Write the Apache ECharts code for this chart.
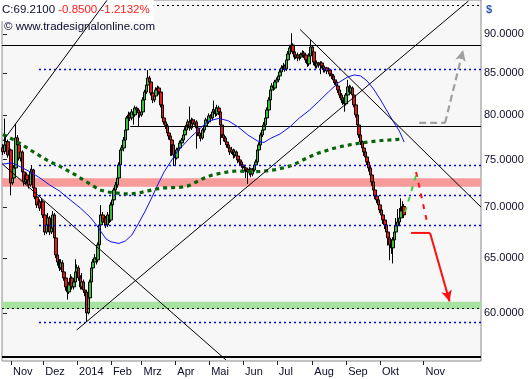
<!DOCTYPE html>
<html><head><meta charset="utf-8">
<script src="https://cdn.jsdelivr.net/npm/echarts@6/dist/echarts.min.js"></script>
<style>html,body{margin:0;padding:0;background:#fff}#c{width:531px;height:379px}</style>
</head><body><div id="c"></div>
<script>
// x = trading-day index (0 = first bar, late Oct 2013)
const monthTickIdx = [5,25,46,67,86,107,128,149,170,192,213,234,261];
const monthLabels = ['Nov','Dez','2014','Feb','Mrz','Apr','Mai','Jun','Jul','Aug','Sep','Okt','Nov'];
const priceTicks = [60,65,70,75,80,85,90];
// [open, close, low, high]
const candles = [
[76.30,75.86,75.50,76.70],[75.86,76.61,75.60,79.60],[76.61,76.97,76.20,77.50],[76.97,75.50,75.20,77.20],[75.50,76.05,75.30,76.40],
[76.05,72.50,71.20,76.20],[72.50,73.02,72.30,73.50],[73.02,74.09,72.80,74.40],[74.09,77.39,73.90,79.00],[77.39,76.61,76.30,77.70],
[76.61,75.17,74.90,76.80],[75.17,75.83,74.80,76.20],[75.83,73.66,73.40,76.00],[73.66,72.60,72.20,73.90],[72.60,73.34,72.30,73.60],
[73.34,72.81,72.40,73.60],[72.81,72.28,71.90,73.10],[72.28,73.66,72.10,74.00],[73.66,73.88,73.20,74.40],[73.88,71.97,71.70,74.00],
[71.97,71.04,70.80,72.20],[71.04,70.22,69.90,71.30],[70.22,70.53,69.90,70.90],[70.53,69.91,69.60,70.80],[69.91,70.53,69.70,70.90],
[70.53,69.20,68.90,70.70],[69.20,67.51,67.20,69.40],[67.51,68.21,67.30,68.50],[68.21,68.90,68.00,69.40],[68.90,67.51,67.20,69.10],
[67.51,67.91,67.30,68.20],[67.91,69.20,67.70,69.60],[69.20,66.93,66.60,69.40],[66.93,65.30,65.00,67.10],[65.30,64.64,64.30,65.60],
[64.64,64.08,63.80,64.90],[64.08,64.55,63.90,64.90],[64.55,63.71,63.40,64.80],[63.71,63.15,62.90,63.90],[63.15,62.34,62.00,63.40],
[62.34,61.88,61.20,62.60],[61.88,62.52,61.70,62.80],[62.52,63.15,62.30,63.50],[63.15,62.34,62.10,63.30],[62.34,62.79,62.10,63.10],
[62.79,63.71,62.60,64.90],[63.71,64.08,63.40,64.40],[64.08,63.15,62.90,64.30],[63.15,62.34,62.10,63.40],[62.34,62.79,62.10,63.60],
[62.79,62.06,61.80,63.00],[62.06,61.88,61.50,62.30],[61.88,60.03,59.28,62.00],[60.03,61.35,59.90,61.60],[61.35,62.79,61.20,63.00],
[62.79,64.08,62.60,64.30],[64.08,64.64,63.70,64.90],[64.64,65.02,64.30,65.40],[65.02,64.83,64.40,65.30],[64.83,66.26,64.60,66.50],
[66.26,68.21,66.00,68.50],[68.21,69.20,66.80,70.20],[69.20,68.50,68.20,69.50],[68.50,68.90,68.20,69.20],[68.90,68.21,67.90,69.10],
[68.21,69.20,68.00,69.50],[69.20,68.70,68.40,69.40],[68.70,70.22,68.50,70.50],[70.22,70.73,69.90,71.00],[70.73,71.76,70.50,72.00],
[71.76,72.28,71.40,72.60],[72.28,73.02,72.00,73.50],[73.02,74.41,72.80,74.70],[74.41,76.05,74.20,76.30],[76.05,76.27,75.60,76.60],
[76.27,77.16,75.90,77.50],[77.16,78.29,76.90,78.60],[78.29,79.67,78.00,79.90],[79.67,80.02,79.30,80.40],[80.02,79.67,79.30,80.30],
[79.67,80.37,79.40,80.70],[80.37,80.02,78.90,80.60],[80.02,80.83,79.80,81.10],[80.83,80.60,80.30,81.00],[80.60,80.25,78.70,80.80],
[80.25,80.02,79.70,80.40],[80.02,80.37,79.80,80.70],[80.37,81.78,80.20,82.10],[81.78,82.73,81.50,83.00],[82.73,83.58,82.50,84.00],
[83.58,84.43,83.30,85.40],[84.43,83.94,83.60,84.70],[83.94,82.61,82.30,84.10],[82.61,81.78,81.40,82.80],[81.78,82.25,81.50,82.50],
[82.25,82.97,82.00,83.30],[82.97,83.21,82.60,83.50],[83.21,82.73,82.40,83.40],[82.73,81.19,80.90,82.90],[81.19,79.67,79.40,81.40],
[79.67,79.21,78.90,79.90],[79.21,78.75,78.40,79.40],[78.75,77.95,77.60,79.00],[77.95,77.61,77.20,78.20],[77.61,77.16,75.40,77.90],
[77.16,76.61,75.40,77.40],[76.61,75.50,74.30,76.80],[75.50,75.17,74.30,75.70],[75.17,76.05,75.00,76.30],[76.05,76.27,75.80,76.60],
[76.27,76.83,76.00,77.10],[76.83,77.16,76.60,77.40],[77.16,77.73,76.90,78.00],[77.73,78.29,77.50,78.60],[78.29,78.86,78.00,79.10],
[78.86,79.21,78.60,79.50],[79.21,78.52,78.20,81.00],[78.52,79.44,78.30,79.70],[79.44,78.98,78.70,79.60],[78.98,79.21,78.80,79.50],
[79.21,78.52,76.20,79.40],[78.52,77.95,77.60,78.70],[77.95,77.61,77.30,78.20],[77.61,77.39,77.00,77.90],[77.39,78.29,77.20,78.50],
[78.29,78.75,78.00,79.00],[78.75,79.44,78.50,79.70],[79.44,79.21,78.90,79.60],[79.21,79.90,79.00,80.20],[79.90,79.67,79.30,80.10],
[79.67,80.37,79.40,80.70],[80.37,80.60,80.10,81.70],[80.60,80.14,79.80,80.90],[80.14,80.83,79.90,81.20],[80.83,80.37,80.00,81.10],
[80.37,78.86,76.60,80.50],[78.86,77.73,77.40,79.00],[77.73,77.39,77.00,78.00],[77.39,76.94,76.60,77.60],[76.94,76.61,76.30,77.30],
[76.61,76.27,75.90,76.90],[76.27,75.83,75.50,76.50],[75.83,76.05,75.60,76.40],[76.05,75.50,75.10,76.20],[75.50,75.83,75.20,76.10],
[75.83,75.39,75.00,76.00],[75.39,74.96,74.60,75.60],[74.96,74.74,74.40,75.10],[74.74,74.41,74.10,74.90],[74.41,74.20,73.90,74.60],
[74.20,74.09,73.70,74.40],[74.09,73.88,73.00,74.20],[73.88,73.66,72.40,74.00],[73.66,73.98,73.30,74.20],[73.98,73.45,73.10,74.10],
[73.45,73.88,73.20,74.10],[73.88,74.41,73.70,74.70],[74.41,74.74,74.20,75.00],[74.74,76.05,74.60,76.30],[76.05,76.61,75.80,76.90],
[76.61,77.73,76.40,78.00],[77.73,78.29,77.50,78.60],[78.29,78.86,78.00,79.20],[78.86,79.67,78.60,80.00],[79.67,80.60,79.40,80.90],
[80.60,81.78,80.40,82.10],[81.78,82.97,81.60,83.30],[82.97,83.46,82.70,83.80],[83.46,83.21,82.90,83.60],[83.21,83.94,83.00,84.20],
[83.94,84.19,83.70,84.50],[84.19,84.68,84.00,85.00],[84.68,85.17,84.40,85.50],[85.17,85.67,84.90,86.00],[85.67,85.92,85.40,86.30],
[85.92,85.54,85.20,86.10],[85.54,86.67,85.30,87.00],[86.67,87.42,86.40,87.80],[87.42,88.19,87.10,88.60],[88.19,88.57,87.80,90.10],
[88.57,87.68,87.40,88.80],[87.68,87.05,86.70,87.90],[87.05,87.30,86.80,87.70],[87.30,86.92,86.50,87.60],[86.92,87.05,86.60,87.40],
[87.05,87.30,86.80,87.60],[87.30,87.55,87.00,87.90],[87.55,87.30,86.90,87.80],[87.30,86.67,86.30,87.50],[86.67,86.17,85.80,86.90],
[86.17,87.17,85.90,87.50],[87.17,88.31,86.90,89.20],[88.31,87.68,87.30,88.50],[87.68,86.41,86.00,87.90],[86.41,85.92,85.60,86.60],
[85.92,86.29,85.60,86.60],[86.29,86.04,85.70,86.40],[86.04,86.29,84.90,86.50],[86.29,85.92,85.60,86.50],[85.92,85.42,85.10,86.10],
[85.42,85.67,85.10,85.90],[85.67,85.29,84.90,85.80],[85.29,85.42,85.00,85.70],[85.42,84.92,84.60,85.60],[84.92,84.68,84.30,85.10],
[84.68,84.19,83.80,84.90],[84.19,83.94,83.60,84.40],[83.94,83.46,83.10,84.20],[83.46,82.97,82.60,83.70],[82.97,82.37,82.00,83.20],
[82.37,81.78,81.40,82.60],[81.78,82.01,81.20,82.30],[82.01,81.31,80.40,82.20],[81.31,82.37,81.10,82.60],[82.37,83.34,82.10,84.20],
[83.34,82.73,82.40,83.60],[82.73,83.21,82.50,83.50],[83.21,82.37,82.00,83.40],[82.37,81.19,80.90,82.50],[81.19,80.02,79.70,81.30],
[80.02,78.86,78.50,80.20],[78.86,77.73,77.40,79.00],[77.73,76.94,76.60,77.90],[76.94,76.27,75.90,77.10],[76.27,75.83,75.40,76.50],
[75.83,75.28,74.90,76.00],[75.28,74.74,74.40,75.50],[74.74,74.09,73.70,74.90],[74.09,73.34,73.00,74.30],[73.34,72.60,72.20,73.50],
[72.60,71.76,71.40,72.80],[71.76,71.14,70.80,71.90],[71.14,70.73,70.40,71.40],[70.73,70.22,69.90,70.90],[70.22,69.71,69.40,70.40],
[69.71,69.20,68.90,69.90],[69.20,68.70,68.30,69.40],[68.70,68.21,67.80,68.90],[68.21,67.51,67.00,68.40],[67.51,66.93,66.20,67.70],
[66.93,66.26,64.80,67.10],[66.26,65.97,65.40,66.80],[65.97,66.74,64.50,67.00],[66.74,67.51,66.40,68.00],[67.51,68.11,67.20,68.90],
[68.11,68.50,67.50,69.80],[68.50,68.90,68.10,69.90],[68.90,69.61,68.50,70.90],[69.61,70.06,69.20,70.60],[70.06,69.21,68.90,70.30]
];
// blue moving average (read at sample bars)
const maBlueIdx = [0,6,11,17,23,29,35,41,48,54,58,61,64,67,72,76,80,84,88,92,96,100,104,108,112,116,120,124,128,134,140,146,152,158,162,166,172,178,184,190,196,202,208,214,218,222,226,230,234,238,242,246,249];
const maBlueVal = [74.52,74.63,74.20,73.66,73.02,72.28,71.66,70.83,69.91,69.00,68.21,67.51,66.83,66.55,66.40,66.64,67.22,68.31,69.51,70.83,72.28,73.66,74.74,75.83,76.61,77.39,78.06,78.75,79.33,79.62,79.33,78.63,77.73,77.05,76.88,77.33,77.84,78.63,79.67,80.54,81.61,82.73,83.82,84.56,84.80,84.68,84.07,83.09,81.90,80.60,79.33,78.18,76.94];
// green dotted moving average
const maGreenIdx = [0,5,10,15,20,25,30,35,40,45,50,55,60,65,70,75,80,85,90,95,100,105,110,115,120,125,130,135,140,145,150,155,160,165,170,175,180,185,190,195,200,205,210,215,220,225,230,235,240,245,247];
const maGreenVal = [77.78,77.33,76.83,76.27,75.72,75.17,74.69,74.31,73.82,73.34,72.81,72.28,71.76,71.55,71.45,71.36,71.36,71.47,71.66,71.86,71.97,72.00,72.04,72.18,72.60,73.02,73.34,73.52,73.68,73.77,73.71,73.69,73.71,73.82,73.93,74.14,74.41,74.85,75.28,75.66,75.94,76.22,76.44,76.61,76.77,76.90,77.01,77.10,77.16,77.23,77.25];
// levels
const solidFull = [88.57];
const solidPartial = {from: 79, value: 78.75};
const blueDotted = [85.5, 74.39, 71.19, 68.18, 59.25];
const blueDottedFrom = 22.4;
const blackDottedTop = {from: 64.6, value: 93.87};
const blackDottedBand = 60.47;
const baseLine = 56.31;
const redBand = [72.1, 73.0];
const greenBand = [60.37, 61.0];
// trend lines [[idx, price],[idx, price]]
const trendLines = [
  [[0, 77.05], [64.5, 94.5]],
  [[-0.59, 74.55], [138.4, 56.07]],
  [[45.8, 58.56], [288.9, 94.41]],
  [[184.4, 90.59], [296.7, 70.0]]
];
// projection arrows
const grayPath = [[258.3, 79.09], [274.4, 79.09]];
const grayArrow = [[274.4, 79.09], [285.6, 87.93]];
const redDash = [[256.4, 73.66], [263.2, 68.5]];
const redFlat = [[253.3, 67.42], [265.1, 67.42]];
const redArrow = [[265.1, 67.42], [277.2, 61.04]];
const greenDash = [[249.6, 69.5], [257.0, 73.66]];

const X_MIN = -0.59, X_MAX = 296.7;
const FONT = 'Liberation Sans';

const lineSeries = (pts, style, z) => ({
  type: 'line', data: pts, showSymbol: false, symbol: 'none', silent: true,
  lineStyle: style, z: z || 4, animation: false
});

const chart = echarts.init(document.getElementById('c'), null, {renderer: 'canvas'});
const dotted = (c, w) => ({color: c, width: w || 1.2, type: [2, 3]});

const series = [
  { // bands + levels
    type: 'line', data: [], z: 1, silent: true,
    markArea: { silent: true, label: {show: false},
      data: [
        [{yAxis: redBand[0], itemStyle: {color: '#f79a9a'}}, {yAxis: redBand[1]}],
        [{yAxis: greenBand[0], itemStyle: {color: '#a8e2a0'}}, {yAxis: greenBand[1]}]
      ]
    },
    markLine: { silent: true, symbol: 'none', label: {show: false}, animation: false,
      data: [
        ...solidFull.map(v => ({yAxis: v, lineStyle: {color: '#000', width: 1, type: 'solid'}})),
        [{coord: [solidPartial.from, solidPartial.value], lineStyle: {color: '#000', width: 1, type: 'solid'}}, {coord: [X_MAX, solidPartial.value]}],
        ...blueDotted.map(v => [{coord: [blueDottedFrom, v], lineStyle: dotted('#0000ee', 1.3)}, {coord: [X_MAX, v]}]),
        [{coord: [blackDottedTop.from, blackDottedTop.value], lineStyle: dotted('#000', 1.1)}, {coord: [X_MAX, blackDottedTop.value]}],
        {yAxis: blackDottedBand, lineStyle: dotted('#000', 1.1)},
        {yAxis: baseLine, lineStyle: {color: '#000', width: 2, type: 'solid'}}
      ]
    }
  },
  {
    type: 'candlestick', name: 'price', z: 3,
    data: candles.map((d, i) => [i, d[0], d[1], d[2], d[3]]),
    encode: {x: 0, y: [1, 2, 3, 4]},
    barWidth: 3,
    itemStyle: {color: '#35c035', color0: '#ee1515', borderColor: '#000', borderColor0: '#000', borderWidth: 1}
  },
  lineSeries(maBlueIdx.map((x, i) => [x, maBlueVal[i]]), {color: '#1010ff', width: 1}, 5),
  lineSeries(maGreenIdx.map((x, i) => [x, maGreenVal[i]]), {color: '#086408', width: 3.2, type: [4, 4]}, 5),
  ...trendLines.map(t => lineSeries(t, {color: '#000', width: 1}, 6)),
  lineSeries(grayPath, {color: '#a0a0a0', width: 2.2, type: [7, 4]}, 6),
  lineSeries(redDash, {color: '#ff1010', width: 2, type: [5, 6]}, 6),
  lineSeries(redFlat, {color: '#ff1010', width: 2}, 6),
  lineSeries(greenDash, {color: '#40d040', width: 2, type: [5, 6]}, 6),
  {
    type: 'line', data: [], z: 6, silent: true,
    markLine: { silent: true, label: {show: false}, animation: false, symbolSize: [8, 11],
      data: [
        [{coord: grayArrow[0], symbol: 'none', lineStyle: {color: '#a0a0a0', width: 2.2, type: [7, 4]}}, {coord: grayArrow[1], symbol: 'arrow', itemStyle: {color: '#a0a0a0'}}],
        [{coord: redArrow[0], symbol: 'none', lineStyle: {color: '#ff1010', width: 2, type: 'solid'}}, {coord: redArrow[1], symbol: 'arrow', itemStyle: {color: '#ff1010'}}]
      ]
    }
  }
];

chart.setOption({
  animation: false,
  backgroundColor: '#ffffff',
  textStyle: {fontFamily: FONT},
  title: [
    { text: '{c|C:69.2100} {r|-0.8500 -1.2132%}', left: 0, top: 0, padding: [4, 4, 5, 2], backgroundColor: '#ffffff',
      textStyle: {fontWeight: 'normal', fontSize: 11.5,
        rich: {c: {color: '#0c0c30', fontSize: 11.5, fontWeight: 'normal', fontFamily: FONT}, r: {color: '#ff1a1a', fontSize: 11.5, fontWeight: 'normal', fontFamily: FONT}}}},
    { text: '\u00a9 www.tradesignalonline.com', left: 4, top: 21, padding: 0,
      textStyle: {color: '#0c0c30', fontSize: 11.5, fontWeight: 'normal', fontFamily: FONT}},
    { text: '$', left: 486, top: 4, padding: 0,
      textStyle: {color: '#2a5cb0', fontSize: 11, fontWeight: 'bold', fontFamily: FONT}}
  ],
  grid: {left: 2, right: 50, top: 0, bottom: 18, show: true, backgroundColor: '#f7f7f7', borderColor: '#8a8a8a', borderWidth: 1},
  xAxis: {
    type: 'value', min: X_MIN, max: X_MAX,
    axisLine: {show: false}, splitLine: {show: false},
    axisTick: {show: true, customValues: monthTickIdx, length: 4, lineStyle: {color: '#202020'}},
    axisLabel: {customValues: monthTickIdx, formatter: v => monthLabels[monthTickIdx.indexOf(v)] || '',
      align: 'left', margin: 5, padding: [0, 0, 0, 2], color: '#0c0c26', fontSize: 11, fontFamily: FONT}
  },
  yAxis: {
    type: 'log', logBase: 10, min: 55.98, max: 94.55, position: 'right',
    axisLine: {show: false}, splitLine: {show: false},
    axisTick: {show: true, customValues: priceTicks, length: 4, lineStyle: {color: '#202020'}},
    axisLabel: {customValues: priceTicks, formatter: v => Number(v).toFixed(4), margin: 3, color: '#0c0c26', fontSize: 11, fontFamily: FONT}
  },
  series: series
});
</script></body></html>
